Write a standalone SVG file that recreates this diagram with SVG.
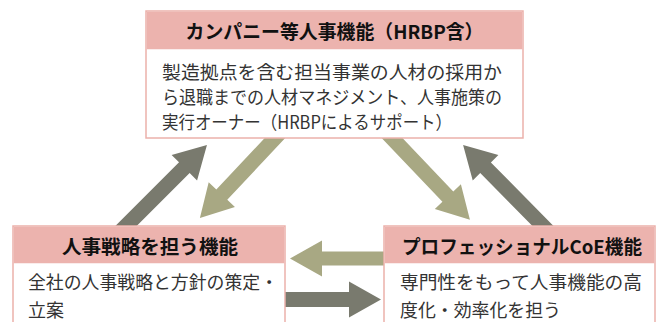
<svg xmlns="http://www.w3.org/2000/svg" width="659" height="322" viewBox="0 0 659 322">
<style>
.box{fill:#ffffff;stroke:#ebb1ab;stroke-width:1.5}
.hdr{fill:#ecb3ae}
.ttl{font-family:"Noto Sans CJK JP","Liberation Sans",sans-serif;font-weight:bold;font-size:19px;fill:#111}
.txt{font-family:"Noto Sans CJK JP","Liberation Sans",sans-serif;font-size:18px;fill:#333}
.gray{fill:#797a6e}
.olive{fill:#a8a883}
</style>
<rect width="659" height="322" fill="#ffffff"/>
<g id="connectors">
<path class="gray" transform="translate(126,226) rotate(-45)" d="M-20,-7.5 H82.5 V-18 L114.5,0 L82.5,18 V7.5 H-20 Z"/>
<path class="olive" transform="translate(275,138) rotate(133.2)" d="M-20,-7.5 H77.7 V-18 L109.7,0 L77.7,18 V7.5 H-20 Z"/>
<path class="olive" transform="translate(392,138) rotate(46.4)" d="M-20,-7.5 H81 V-18 L113,0 L81,18 V7.5 H-20 Z"/>
<path class="gray" transform="translate(543,226) rotate(-134.6)" d="M-20,-7.5 H81.8 V-18 L113.8,0 L81.8,18 V7.5 H-20 Z"/>
<path class="olive" transform="translate(384,258.5) rotate(180)" d="M-20,-7 H62 V-18 L94,0 L62,18 V7 H-20 Z"/>
<path class="gray" transform="translate(285,299.5)" d="M-20,-7.5 H64 V-18 L96,0 L64,18 V7.5 H-20 Z"/>
</g>
<g id="node-company">
<rect class="box" x="146" y="11" width="377" height="127"/>
<rect class="hdr" x="146.75" y="11.75" width="375.5" height="37.5"/>
<text class="ttl" x="334.5" y="39" text-anchor="middle" textLength="298" lengthAdjust="spacingAndGlyphs">カンパニー等人事機能（HRBP含）</text>
<text class="txt" x="162" y="79" textLength="340" lengthAdjust="spacingAndGlyphs">製造拠点を含む担当事業の人材の採用か</text>
<text class="txt" x="162" y="104" textLength="340" lengthAdjust="spacingAndGlyphs">ら退職までの人材マネジメント、人事施策の</text>
<text class="txt" x="162" y="129" textLength="290" lengthAdjust="spacingAndGlyphs">実行オーナー（HRBPによるサポート）</text>
</g>
<g id="node-strategy">
<rect class="box" x="13" y="226" width="272" height="110"/>
<rect class="hdr" x="13.75" y="226.75" width="270.5" height="36.5"/>
<text class="ttl" x="150" y="254" text-anchor="middle" textLength="176" lengthAdjust="spacingAndGlyphs">人事戦略を担う機能</text>
<text class="txt" x="28" y="289" textLength="250" lengthAdjust="spacingAndGlyphs">全社の人事戦略と方針の策定・</text>
<text class="txt" x="28" y="317">立案</text>
</g>
<g id="node-coe">
<rect class="box" x="384" y="226" width="271" height="110"/>
<rect class="hdr" x="384.75" y="226.75" width="269.5" height="36.5"/>
<text class="ttl" x="522" y="254" text-anchor="middle" textLength="240" lengthAdjust="spacingAndGlyphs">プロフェッショナルCoE機能</text>
<text class="txt" x="400" y="289" textLength="242" lengthAdjust="spacingAndGlyphs">専門性をもって人事機能の高</text>
<text class="txt" x="400" y="317" textLength="161" lengthAdjust="spacingAndGlyphs">度化・効率化を担う</text>
</g>
</svg>
